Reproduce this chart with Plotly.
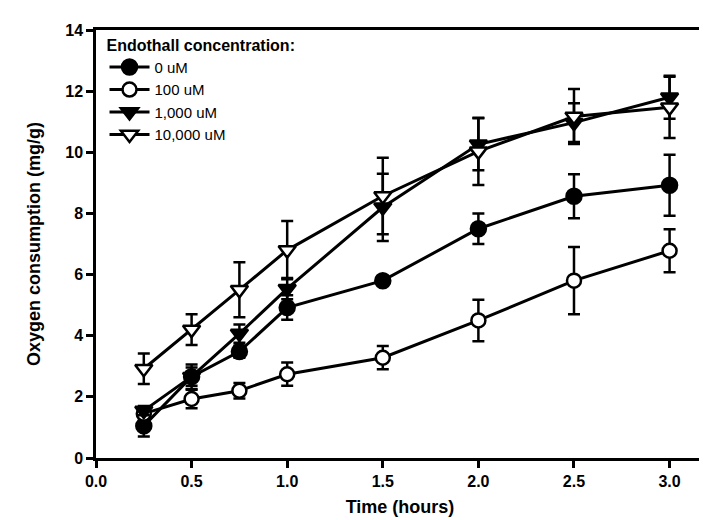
import plotly.graph_objects as go

time_h = [0.25, 0.5, 0.75, 1.0, 1.5, 2.0, 2.5, 3.0]

series_names = ["0 uM", "100 uM", "1,000 uM", "10,000 uM"]

o2_0uM = [1.05, 2.66, 3.48, 4.92, 5.8, 7.5, 8.56, 8.92]
err_0uM = [0.35, 0.4, 0.2, 0.4, 0.1, 0.5, 0.72, 1.0]

o2_100uM = [1.45, 1.93, 2.2, 2.74, 3.28, 4.5, 5.8, 6.78]
err_100uM = [0.15, 0.3, 0.25, 0.38, 0.38, 0.68, 1.1, 0.7]

o2_1000uM = [1.55, 2.66, 4.07, 5.54, 8.2, 10.26, 10.97, 11.8]
err_1000uM = [0.15, 0.3, 0.3, 0.35, 1.1, 0.85, 0.63, 0.7]

o2_10000uM = [2.92, 4.2, 5.5, 6.8, 8.57, 10.03, 11.17, 11.47]
err_10000uM = [0.5, 0.5, 0.9, 0.95, 1.25, 1.1, 0.9, 1.0]

x_ticks = [0.0, 0.5, 1.0, 1.5, 2.0, 2.5, 3.0]
y_ticks = [0, 2, 4, 6, 8, 10, 12, 14]

FONT = "Arial, Liberation Sans, Helvetica, sans-serif"

styles = [
    dict(symbol="circle", fill="black", size=15),
    dict(symbol="circle", fill="white", size=14),
    dict(symbol="triangle-down", fill="black", size=15),
    dict(symbol="triangle-down", fill="white", size=15),
]
values = [o2_0uM, o2_100uM, o2_1000uM, o2_10000uM]
errors = [err_0uM, err_100uM, err_1000uM, err_10000uM]

fig = go.Figure()
for name, y, e, st in zip(series_names, values, errors, styles):
    fig.add_trace(go.Scatter(
        x=time_h, y=y, name=name, mode="lines+markers",
        line=dict(color="black", width=3),
        marker=dict(symbol=st["symbol"], size=st["size"], color=st["fill"],
                    line=dict(color="black", width=2.5)),
        error_y=dict(type="data", array=e, visible=True, color="black",
                     thickness=2.5, width=6),
    ))

fig.update_layout(
    width=707, height=520,
    margin=dict(l=88, r=8, t=22, b=70),
    paper_bgcolor="white", plot_bgcolor="white",
    font=dict(family=FONT, color="black", size=16),
    showlegend=True,
    legend=dict(
        x=0.014, y=1.0, xanchor="left", yanchor="top",
        bgcolor="rgba(0,0,0,0)",
        title=dict(text="<b>Endothall concentration:</b>", font=dict(size=16, family=FONT)),
        font=dict(size=15, family=FONT),
        tracegroupgap=0, itemsizing="trace", itemwidth=40,
    ),
    xaxis=dict(
        range=[0, 3.18], tickvals=x_ticks,
        ticktext=[f"<b>{v:.1f}</b>" for v in x_ticks],
        ticks="outside", ticklen=7, tickwidth=2.5, tickcolor="black",
        showline=True, linewidth=2.5, linecolor="black", mirror=True,
        showgrid=False, zeroline=False,
        tickfont=dict(size=16, family=FONT),
        title=dict(text="<b>Time (hours)</b>", font=dict(size=18, family=FONT), standoff=12),
    ),
    yaxis=dict(
        range=[0, 14], tickvals=y_ticks,
        ticktext=[f"<b>{v}</b>" for v in y_ticks],
        ticks="outside", ticklen=7, tickwidth=2.5, tickcolor="black",
        showline=True, linewidth=2.5, linecolor="black", mirror=True,
        showgrid=False, zeroline=False,
        tickfont=dict(size=16, family=FONT),
        title=dict(text="<b>Oxygen consumption (mg/g)</b>", font=dict(size=18, family=FONT), standoff=20),
    ),
)

fig.write_html("out.html")
